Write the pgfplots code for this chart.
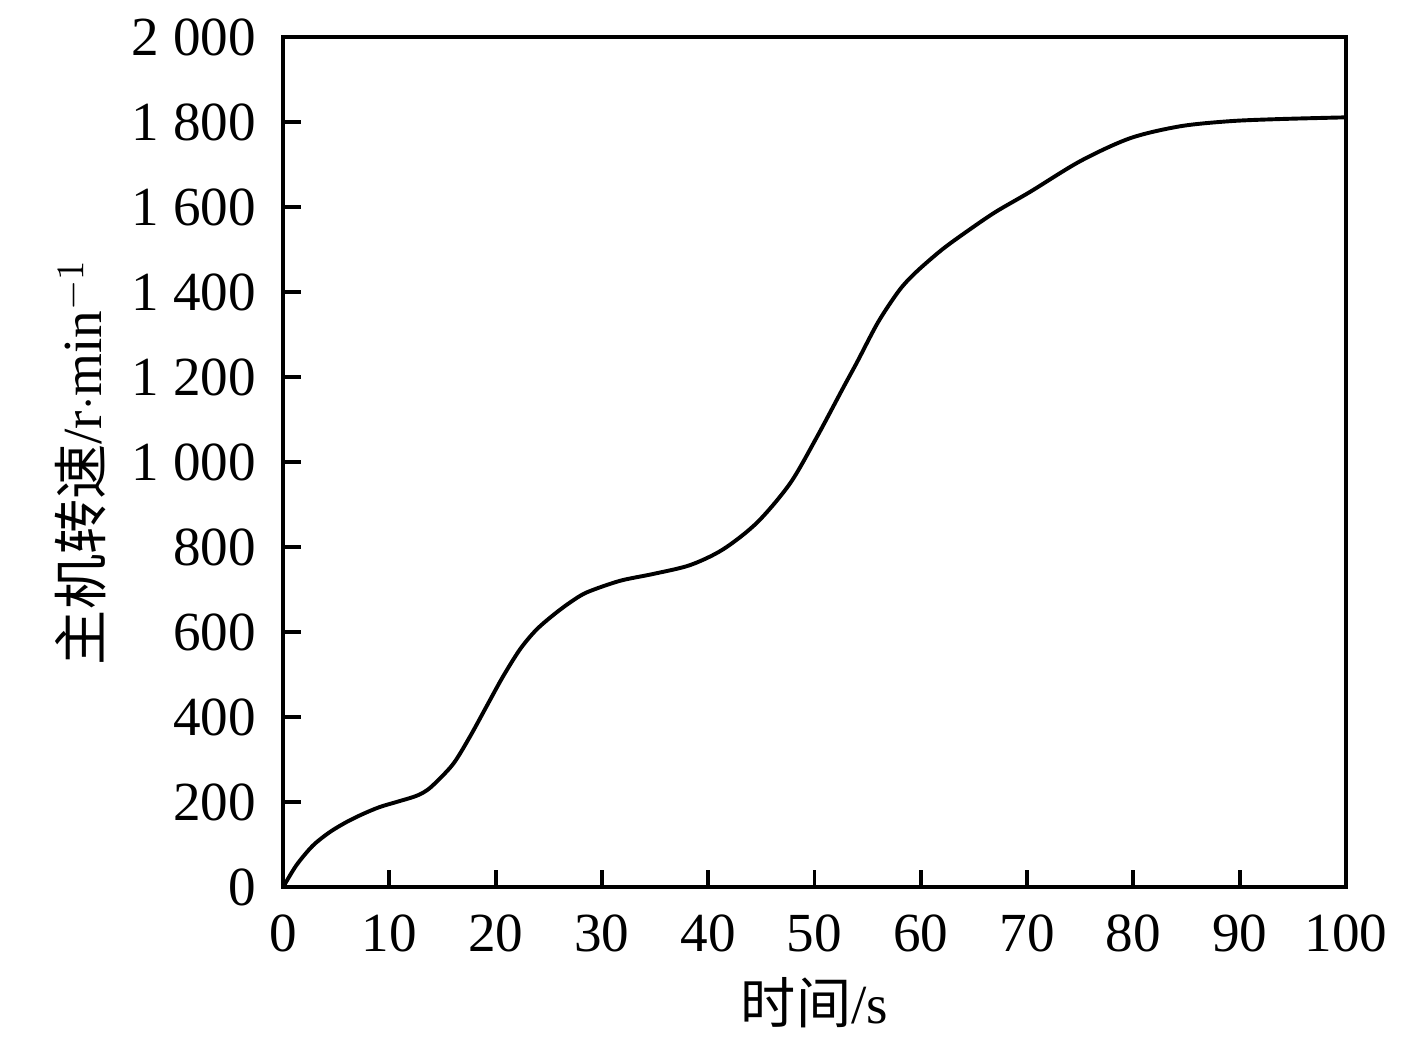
\documentclass[border=0pt]{standalone}
\usepackage{pgfplots}
\pgfplotsset{compat=1.18}
\usepackage{fontspec}
\setmainfont{Liberation Serif}
\newfontfamily\cjk{Noto Sans CJK SC}

\begin{document}
\fontsize{15.5}{18}\selectfont
\begin{tikzpicture}
\begin{axis}[
    width=10.5cm, height=8.4cm, scale only axis, clip=false,
    xmin=0, xmax=100, ymin=0, ymax=2000,
    xtick={0,10,...,100}, ytick={0,200,...,2000},
    axis line style={line width=1.1pt},
    tick align=inside, xtick pos=bottom, ytick pos=left,
    major tick length=5pt,
    tick style={black, line width=1.1pt},
    xtick style={shorten >=2.3pt},
    /pgf/number format/assume math mode=true,
    /pgf/number format/1000 sep={\ },
    ticklabel style={font=\fontsize{15.5}{18}\selectfont},
    yticklabel style={xshift=-0.08cm},
    xticklabel style={yshift=-0.08cm},
    every axis x label/.style={at={(rel axis cs:0.5,-0.135)}, anchor=center},
    every axis y label/.style={at={(rel axis cs:-0.19,0.5)}, rotate=90, anchor=center},
    label style={font=\fontsize{15.5}{18}\selectfont},
    xlabel={{\cjk 时间}/s},
    ylabel={{\cjk 主机转速}/r$\cdot$min$^{-1}$},
]
\addplot[black, line width=1.1pt, smooth] coordinates {
(0,0) (1.26,52) (2.8,98) (4.4,130) (6.0,154) (7.55,173) (9.1,189) (10.7,201)
(12.3,213) (13.2,223) (14.1,240) (16.0,290) (17.6,355) (19.2,428) (20.7,496)
(22.3,560) (23.8,605) (25.4,640) (27,670) (28.6,694) (31.7,721) (34.8,737)
(38.3,758) (41.4,795) (44.6,858) (47.7,950) (50.2,1058) (52.7,1175)
(54.0,1235) (56.0,1330) (58.0,1405) (59.6,1448) (62,1500) (64.3,1542) (67,1588)
(70.3,1636) (75,1708) (79.7,1762) (84.4,1790) (89.1,1802) (93.8,1807) (100,1811)
};
\path (rel axis cs:-0.2662,-0.1847) rectangle (rel axis cs:1.0668,1.0353);
\end{axis}
\end{tikzpicture}
\end{document}
